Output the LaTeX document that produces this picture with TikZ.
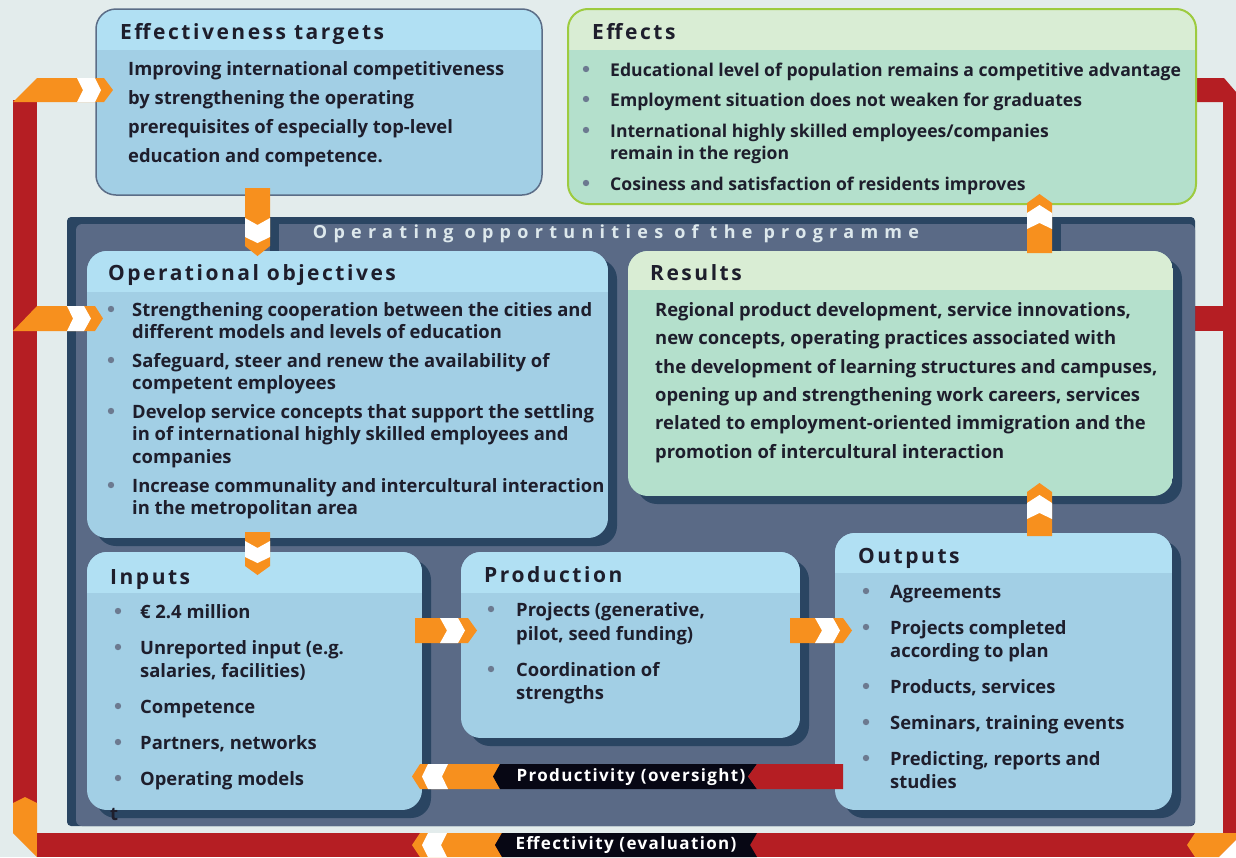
\documentclass[tikz,border=0pt]{standalone}
\usepackage{fontspec}
\setmainfont{Open Sans}
\newfontfamily\hdrfont{Open Sans}[LetterSpace=12]
\newfontfamily\titlefont{Open Sans}[LetterSpace=35]
\newfontfamily\barfont{Open Sans}[LetterSpace=8]
\definecolor{bgc}{HTML}{E3ECEC}
\definecolor{navyc}{HTML}{2A4562}
\definecolor{slatec}{HTML}{5A6A86}
\definecolor{bluehead}{HTML}{B1E0F3}
\definecolor{bluebody}{HTML}{A2CFE5}
\definecolor{greenhead}{HTML}{D9EDD4}
\definecolor{greenbody}{HTML}{B4E0CC}
\definecolor{greenline}{HTML}{9DCB3F}
\definecolor{greyline}{HTML}{5B6D87}
\definecolor{orangec}{HTML}{F7901E}
\definecolor{redc}{HTML}{B51E23}
\definecolor{blackc}{HTML}{070714}
\definecolor{bulletc}{HTML}{6C7A90}
\definecolor{textc}{HTML}{1E1E2C}
\definecolor{titlec}{HTML}{DDE8EC}
\tikzset{
  txt/.style={inner sep=0pt, anchor=base west, text=textc, font=\fontsize{18.4}{22}\selectfont\bfseries},
  txtb/.style={txt, font=\fontsize{17.6}{22}\selectfont\bfseries},
  hdr/.style={inner sep=0pt, anchor=base west, text=textc, font=\fontsize{21}{24}\selectfont\hdrfont\bfseries},
  barlbl/.style={inner sep=0pt, text=white, font=\fontsize{17}{19}\selectfont\barfont\bfseries},
  orangef/.style={fill=orangec},
  whitef/.style={fill=white},
  redf/.style={fill=redc},
  blackf/.style={fill=blackc},
  shadowf/.style={fill=navyc, rounded corners=20},
}
\newcommand{\tline}[4]{\node[txt] (#1) at (#2,#3) {#4};}
\newcommand{\tlineb}[4]{\node[txtb] (#1) at (#2,#3) {#4};}
\newcommand{\bul}[2]{\fill[bulletc] (#1,#2) circle (3.2);}
% x1 y1 x2 y2 yhead headcolor bodycolor
\newcommand{\mybox}[7]{%
  \begin{scope}
    \clip[rounded corners=20] (#1,#2) rectangle (#3,#4);
    \fill[#7] (#1,#2) rectangle (#3,#4);
    \fill[#6] (#1,#2) rectangle (#3,#5);
  \end{scope}}
\newcommand{\shadowbox}[4]{\fill[shadowf] (#1+9,#2+8) rectangle (#3+9,#4+8);}
\begin{document}
\begin{tikzpicture}[x=1pt,y=-1pt]
\useasboundingbox (0,0) rectangle (1236,857);
\fill[bgc] (0,0) rectangle (1236,857);

% ---------- red frame ----------
\fill[redf] (13,100) rectangle (37,805);
\fill[orangef] (13,803) -- (25,797) -- (37,803) -- (37,857) -- (13,833) -- cycle;
\fill[redf] (37,833) rectangle (1236,857);
\fill[redf] (1190,78) -- (1224,78) -- (1236,92) -- (1236,833) -- (1223,833) -- (1223,102) -- (1190,102) -- cycle;
\fill[redf] (1170,306) rectangle (1236,331);
\fill[orangef] (1187,845) -- (1195,833) -- (1236,833) -- (1236,840) -- (1219,857) -- (1195,857) -- cycle;
\fill[whitef] (1219,857) -- (1236,840) -- (1236,857) -- cycle;

% ---------- panel ----------
\fill[navyc, rounded corners=4] (67,217) rectangle (1195,826);
\fill[slatec, rounded corners=6] (76,224) rectangle (1195,826);
\fill[navyc] (270,217) rectangle (279,251);
\fill[navyc] (1052,217) rectangle (1061,251);
\node[inner sep=0pt, text=titlec, font=\fontsize{18}{20}\selectfont\titlefont\bfseries] (title) at (616,234) {Operating opportunities of the programme};

% ---------- top boxes ----------
\mybox{96}{9}{542}{195}{50}{bluehead}{bluebody}
\draw[greyline, line width=1.5, rounded corners=20] (96,9) rectangle (542,195);
\mybox{568}{9}{1196}{204}{50}{greenhead}{greenbody}
\draw[greenline, line width=2, rounded corners=20] (568,9) rectangle (1196,204);

% ---------- inner boxes ----------
\shadowbox{87}{251}{608}{538}
\mybox{87}{251}{608}{538}{292}{bluehead}{bluebody}
\shadowbox{628}{251}{1173}{496}
\mybox{628}{251}{1173}{496}{290}{greenhead}{greenbody}
\shadowbox{87}{552}{422}{810}
\mybox{87}{552}{422}{810}{593}{bluehead}{bluebody}
\shadowbox{461}{552}{800}{738}
\mybox{461}{552}{800}{738}{593}{bluehead}{bluebody}
\shadowbox{835}{533}{1172}{810}
\mybox{835}{533}{1172}{810}{573}{bluehead}{bluebody}

% ---------- left frame arrows ----------
\fill[orangef] (13,102) -- (37,78) -- (104,78) -- (113,90) -- (104,102) -- cycle;
\fill[whitef] (77,78) -- (95,78) -- (101,90) -- (95,102) -- (77,102) -- (83,90) -- cycle;
\fill[orangef] (13,331) -- (37,306) -- (95,306) -- (103,318.5) -- (95,331) -- cycle;
\fill[whitef] (67,306) -- (84,306) -- (91,318.5) -- (84,331) -- (67,331) -- (73,318.5) -- cycle;

% ---------- vertical arrows ----------
\fill[orangef] (245,188) -- (270,188) -- (270,246) -- (257.5,256) -- (245,246) -- cycle;
\fill[whitef] (245,218) -- (257.5,225) -- (270,218) -- (270,237) -- (257.5,243) -- (245,237) -- cycle;
\fill[orangef] (245,532) -- (270,532) -- (270,566) -- (257.5,575) -- (245,566) -- cycle;
\fill[whitef] (245,541) -- (257.5,548) -- (270,541) -- (270,557) -- (257.5,563) -- (245,557) -- cycle;
\fill[orangef] (1027,253) -- (1027,203) -- (1039.5,194) -- (1052,203) -- (1052,253) -- cycle;
\fill[whitef] (1027,213) -- (1039.5,205) -- (1052,213) -- (1052,229) -- (1039.5,223) -- (1027,229) -- cycle;
\fill[orangef] (1027,536) -- (1027,492) -- (1039.5,483) -- (1052,492) -- (1052,536) -- cycle;
\fill[whitef] (1027,503) -- (1039.5,495) -- (1052,503) -- (1052,519) -- (1039.5,513) -- (1027,519) -- cycle;

% ---------- horizontal arrows ----------
\fill[orangef] (415,618) -- (468,618) -- (477,630.5) -- (468,643) -- (415,643) -- cycle;
\fill[whitef] (440,618) -- (458,618) -- (465,630.5) -- (458,643) -- (440,643) -- (447,630.5) -- cycle;
\fill[orangef] (790,618) -- (843,618) -- (852,630.5) -- (843,643) -- (790,643) -- cycle;
\fill[whitef] (815,618) -- (833,618) -- (840,630.5) -- (833,643) -- (815,643) -- (822,630.5) -- cycle;

% ---------- productivity bar ----------
\fill[orangef] (412,776.5) -- (420,764) -- (500,764) -- (500,789) -- (420,789) -- cycle;
\fill[whitef] (428,764) -- (448,764) -- (442,776.5) -- (448,789) -- (428,789) -- (422,776.5) -- cycle;
\fill[blackf] (493,776.5) -- (500,764) -- (757,764) -- (748,776.5) -- (757,789) -- (500,789) -- cycle;
\fill[redf] (748,776.5) -- (757,764) -- (843,764) -- (843,789) -- (757,789) -- cycle;
\node[barlbl] (prod) at (631,777) {Productivity (oversight)};

% ---------- effectivity bar ----------
\fill[orangef] (412,845) -- (420,833) -- (502,833) -- (495,845) -- (502,857) -- (420,857) -- cycle;
\fill[whitef] (428,833) -- (447,833) -- (441,845) -- (447,857) -- (428,857) -- (422,845) -- cycle;
\fill[blackf] (495,845) -- (502,833) -- (757,833) -- (750,845) -- (757,857) -- (502,857) -- cycle;
\node[barlbl] (eff) at (626,845.5) {Effectivity (evaluation)};

% ---------- texts ----------
\node[hdr] (h1) at (120,39) {Effectiveness targets};
\tline{a1}{128}{75}{Improving international competitiveness}
\tline{a2}{128}{104}{by strengthening the operating}
\tline{a3}{128}{133}{prerequisites of especially top-level}
\tline{a4}{128}{162}{education and competence.}

\node[hdr] (h2) at (592,39) {Effects};
\bul{586}{69}\bul{586}{99}\bul{586}{130}\bul{586}{183}
\tlineb{b1}{610}{76}{Educational level of population remains a competitive advantage}
\tlineb{b2}{610}{106}{Employment situation does not weaken for graduates}
\tlineb{b3}{610}{137}{International highly skilled employees/companies}
\tlineb{b4}{610}{159}{remain in the region}
\tlineb{b5}{610}{190}{Cosiness and satisfaction of residents improves}

\node[hdr] (h3) at (108,280) {Operational objectives};
\bul{111}{309}\bul{111}{360}\bul{111}{411}\bul{111}{485}
\tline{c1}{132}{316}{Strengthening cooperation between the cities and}
\tline{c2}{132}{338}{different models and levels of education}
\tline{c3}{132}{367}{Safeguard, steer and renew the availability of}
\tline{c4}{132}{389}{competent employees}
\tline{c5}{132}{418}{Develop service concepts that support the settling}
\tline{c6}{132}{440}{in of international highly skilled employees and}
\tline{c7}{132}{463}{companies}
\tline{c8}{132}{492}{Increase communality and intercultural interaction}
\tline{c9}{132}{514}{in the metropolitan area}

\node[hdr] (h4) at (650,280) {Results};
\tline{d1}{655}{316}{Regional product development, service innovations,}
\tline{d2}{655}{344}{new concepts, operating practices associated with}
\tline{d3}{655}{373}{the development of learning structures and campuses,}
\tline{d4}{655}{401}{opening up and strengthening work careers, services}
\tline{d5}{655}{429}{related to employment-oriented immigration and the}
\tline{d6}{655}{458}{promotion of intercultural interaction}

\node[hdr] (h5) at (110,584) {Inputs};
\bul{118}{611}\bul{118}{647}\bul{118}{706}\bul{118}{742}\bul{118}{778}
\tline{e1}{140}{618}{€ 2.4 million}
\tline{e2}{140}{654}{Unreported input (e.g.}
\tline{e3}{140}{677}{salaries, facilities)}
\tline{e4}{140}{713}{Competence}
\tline{e5}{140}{749}{Partners, networks}
\tline{e6}{140}{785}{Operating models}
\tline{e7}{110}{820}{t}

\node[hdr] (h6) at (484,582) {Production};
\bul{491}{609}\bul{491}{669}
\tline{f1}{516}{616}{Projects (generative,}
\tline{f2}{516}{640}{pilot, seed funding)}
\tline{f3}{516}{676}{Coordination of}
\tline{f4}{516}{699}{strengths}

\node[hdr] (h7) at (858,563) {Outputs};
\bul{866}{591}\bul{866}{627}\bul{866}{686}\bul{866}{722}\bul{866}{758}
\tline{g1}{890}{598}{Agreements}
\tline{g2}{890}{634}{Projects completed}
\tline{g3}{890}{657}{according to plan}
\tline{g4}{890}{693}{Products, services}
\tline{g5}{890}{729}{Seminars, training events}
\tline{g6}{890}{765}{Predicting, reports and}
\tline{g7}{890}{788}{studies}
\end{tikzpicture}
\end{document}
